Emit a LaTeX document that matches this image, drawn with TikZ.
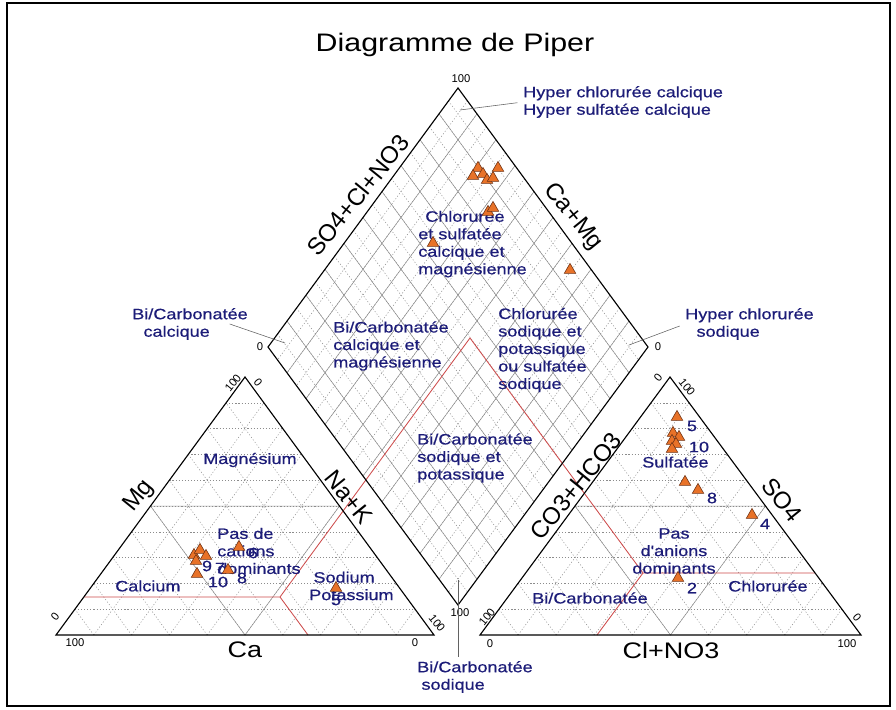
\documentclass[tikz,border=0pt]{standalone}
\usepackage{fontspec}
\setmainfont{Liberation Sans}
\newfontfamily\etiq[FakeStretch=1.2]{Liberation Sans}
\newfontfamily\etiqz[FakeStretch=1.2, FakeBold=0.6]{Liberation Sans}
\usetikzlibrary{calc,shapes.geometric}

\definecolor{azul}{RGB}{28,28,120}
\definecolor{naranja}{RGB}{232,114,40}
\definecolor{marron}{RGB}{110,50,20}
\definecolor{rojo}{RGB}{205,75,75}
\definecolor{gris}{RGB}{140,140,140}

\tikzset{
  borde/.style={black, line width=0.8pt},
  rejilla/.style={gris, line width=0.35pt},
  punteo/.style={gris, line width=0.35pt, dash pattern=on 0.8pt off 1.4pt},
  clase/.style={rojo, line width=0.6pt},
  flecha/.style={gris!70!black, line width=0.4pt},
  zona/.style={font=\etiqz\fontsize{10.7}{12.45}\selectfont, text=azul, inner sep=0pt, align=left, anchor=west},
  num/.style={font=\etiqz\fontsize{10.7}{12.45}\selectfont, text=azul, inner sep=0pt},
  eje/.style={font=\fontsize{17}{20}\selectfont, inner sep=0pt},
  ejeh/.style={font=\etiq\fontsize{16}{19}\selectfont, inner sep=0pt},
  graduacion/.style={font=\fontsize{8}{9}\selectfont, inner sep=0pt},
  muestra/.style={regular polygon, regular polygon sides=3, fill=naranja, draw=marron,
    line width=0.4pt, minimum size=3.3mm, inner sep=0pt}
}

\begin{document}
\begin{tikzpicture}[x=0.025cm, y=-0.025cm]
\useasboundingbox (0,0) rectangle (896,710);
\draw[line width=1.6pt] (7,3) rectangle (890,706);

% Vertices
\coordinate (lA) at (56,635);  \coordinate (lB) at (434,635); \coordinate (lC) at (245,377);
\coordinate (rA) at (480,635); \coordinate (rB) at (861,635); \coordinate (rC) at (670,377);
\coordinate (dT) at (458,88);  \coordinate (dL) at (268,347);
\coordinate (dB) at (458,605); \coordinate (dR) at (648,347);

% Rejilla de los triangulos
\foreach \ta/\tb/\tc in {lA/lB/lC, rA/rB/rC} {
  \foreach \i in {1,...,9} {
    \pgfmathsetmacro{\f}{\i/10}
    \draw[punteo] ($(\ta)!\f!(\tc)$) -- ($(\tb)!\f!(\tc)$);
    \draw[punteo] ($(\ta)!\f!(\tb)$) -- ($(\tc)!\f!(\tb)$);
    \draw[punteo] ($(\tb)!\f!(\ta)$) -- ($(\tc)!\f!(\ta)$);
  }
  \draw[rejilla] ($(\ta)!.5!(\tb)$) -- ($(\tb)!.5!(\tc)$) -- ($(\tc)!.5!(\ta)$) -- cycle;
}

% Rejilla del rombo
\foreach \i in {1,...,19} {
  \pgfmathsetmacro{\f}{\i/20}
  \draw[punteo] ($(dT)!\f!(dL)$) -- ($(dR)!\f!(dB)$);
  \draw[punteo] ($(dT)!\f!(dR)$) -- ($(dL)!\f!(dB)$);
}
\foreach \i in {1,...,9} {
  \pgfmathsetmacro{\f}{\i/10}
  \draw[rejilla] ($(dT)!\f!(dL)$) -- ($(dR)!\f!(dB)$);
  \draw[rejilla] ($(dT)!\f!(dR)$) -- ($(dL)!\f!(dB)$);
}

% Limites de clases
\draw[clase] (84,597) -- (280,597) -- (470,338) -- (643,573) -- (815,573);
\draw[clase] (280,597) -- (308,635);
\draw[clase] (643,573) -- (597,635);

% Contornos
\draw[borde] (lA) -- (lB) -- (lC) -- cycle;
\draw[borde] (rA) -- (rB) -- (rC) -- cycle;
\draw[borde] (dT) -- (dL) -- (dB) -- (dR) -- cycle;

% Titulo y ejes
\node[font=\etiq\fontsize{18}{20}\selectfont, inner sep=0pt] (titulo) at (455,45) {Diagramme de Piper};
\node[eje, rotate=51] (ejeSO4Cl) at (358,195) {SO4+Cl+NO3};
\node[eje, rotate=-51] (ejeCaMg) at (573,217) {Ca+Mg};
\node[eje, rotate=51] (ejeMg) at (139,496) {Mg};
\node[eje, rotate=-51] (ejeNaK) at (349,497) {Na+K};
\node[ejeh] (ejeCa) at (245,650) {Ca};
\node[eje, rotate=51] (ejeCO3) at (576,486) {CO3+HCO3};
\node[eje, rotate=-51] (ejeSO4) at (782,500) {SO4};
\node[ejeh] (ejeCl) at (671,650) {Cl+NO3};

% Graduaciones
\node[graduacion] (gT) at (461,79) {100};
\node[graduacion] (gL) at (260,347) {0};
\node[graduacion] (gR) at (658,347) {0};
\node[graduacion] (gB) at (460,613) {100};
\node[graduacion, rotate=51] (g1) at (233,383) {100};
\node[graduacion, rotate=-51] (g2) at (258,382) {0};
\node[graduacion, rotate=51] (g3) at (55,617) {0};
\node[graduacion] (g4) at (75,643) {100};
\node[graduacion, rotate=-51] (g5) at (437,623) {100};
\node[graduacion] (g6) at (415,643) {0};
\node[graduacion, rotate=51] (g7) at (658,378) {0};
\node[graduacion, rotate=-51] (g8) at (687,387) {100};
\node[graduacion, rotate=51] (g9) at (487,617) {100};
\node[graduacion] (g10) at (490,644) {0};
\node[graduacion, rotate=-51] (g11) at (857,617) {0};
\node[graduacion] (g12) at (847,644) {100};

% Zonas
\node[zona] (hypCal) at (523,102) {Hyper chlorurée calcique\\Hyper sulfatée calcique};
\node[zona] (bcCal) at (132,324) {Bi/Carbonatée\\\hspace*{8pt}calcique};
\node[zona] (hypSod) at (685,324) {Hyper chlorurée\\\hspace*{8pt}sodique};
\node[zona] (clSulf) at (418,244) {\hspace*{5pt}Chlorurée\\et sulfatée\\calcique et\\magnésienne};
\node[zona] (bcCalMg) at (333,346) {Bi/Carbonatée\\calcique et\\magnésienne};
\node[zona] (clSod) at (498,350) {Chlorurée\\sodique et\\potassique\\ou sulfatée\\sodique};
\node[zona] (bcSodK) at (417,458) {Bi/Carbonatée\\sodique et\\potassique};
\node[zona] (bcSod) at (417,677) {Bi/Carbonatée\\\hspace*{3pt}sodique};
\node[zona] (magnes) at (203,460) {Magnésium};
\node[zona] (sinCat) at (217,551) {Pas de\\cations\\dominants};
\node[zona] (calcio) at (115,586) {Calcium};
\node[zona] (sodPot) at (309,586) {\hspace*{3pt}Sodium\\Potassium};
\node[zona] (sulf) at (642,462) {Sulfatée};
\node[zona, align=center, anchor=center] (sinAn) at (674,551) {Pas\\d'anions\\dominants};
\node[zona] (bcAn) at (532,598) {Bi/Carbonatée};
\node[zona] (clor) at (728,586) {Chlorurée};

% Lineas de referencia
\coordinate (pHypCal) at (460,110);
\coordinate (pBcCal) at (285,343);
\coordinate (pHypSod) at (629,345);
\coordinate (pBcSod) at (458,580);
\draw[flecha, shorten <=4pt] (hypCal.west) -- (pHypCal);
\draw[flecha] ([xshift=-13pt]bcCal.east) -- (pBcCal);
\draw[flecha, shorten <=4pt] (hypSod.west) -- (pHypSod);
\draw[flecha, shorten >=3pt] (pBcSod) -- (pBcSod |- bcSod.north);

% Muestras en el rombo
\node[muestra] (d1) at (478,168) {}; \node[muestra] (d2) at (498,168) {};
\node[muestra] (d3) at (473,176) {}; \node[muestra] (d4) at (483,174) {};
\node[muestra] (d5) at (487,180) {}; \node[muestra] (d6) at (493,178) {};
\node[muestra] (d7) at (488,212) {}; \node[muestra] (d8) at (493,208) {};
\node[muestra] (d9) at (433,243) {}; \node[muestra] (d10) at (570,270) {};

% Muestras en cationes
\node[muestra] (c1) at (239,547) {}; \node[muestra] (c2) at (194,555) {};
\node[muestra] (c3) at (200,550) {}; \node[muestra] (c4) at (206,556) {};
\node[muestra] (c5) at (196,561) {}; \node[muestra] (c6) at (197,574) {};
\node[muestra] (c7) at (228,570) {}; \node[muestra] (c8) at (336,588) {};
\node[num] (nc6) at (253,553) {6};
\node[num] (nc9) at (207,566) {9};
\node[num] (nc7) at (220,568) {7};
\node[num] (nc10) at (218,582) {10};
\node[num] (nc8) at (242,578) {8};
\node[num] (nc5) at (336,600) {5};

% Muestras en aniones
\node[muestra] (a1) at (677,417) {}; \node[muestra] (a2) at (673,433) {};
\node[muestra] (a3) at (679,437) {}; \node[muestra] (a4) at (672,441) {};
\node[muestra] (a5) at (676,444) {}; \node[muestra] (a6) at (672,449) {};
\node[muestra] (a7) at (685,482) {}; \node[muestra] (a8) at (698,490) {};
\node[muestra] (a9) at (752,515) {}; \node[muestra] (a10) at (678,578) {};
\node[num] (na5) at (692,426) {5};
\node[num] (na10) at (699,447) {10};
\node[num] (na8) at (712,498) {8};
\node[num] (na4) at (765,524) {4};
\node[num] (na2) at (692,588) {2};

\end{tikzpicture}
\end{document}
